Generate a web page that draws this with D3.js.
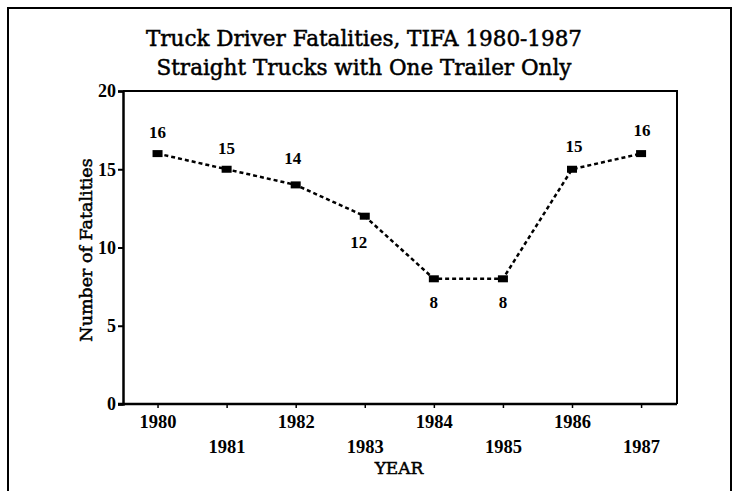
<!DOCTYPE html>
<html>
<head>
<meta charset="utf-8">
<script src="https://cdn.jsdelivr.net/npm/d3@7"></script>
<style>
  body { margin: 0; background: #fff; }
  svg text { font-family: "DejaVu Serif", "Liberation Serif", serif; fill: #000; }
</style>
</head>
<body>
<svg width="739" height="491"></svg>
<script>
var years = [1980, 1981, 1982, 1983, 1984, 1985, 1986, 1987];
var fatalities = [16, 15, 14, 12, 8, 8, 15, 16];
var yTicks = [0, 5, 10, 15, 20];
var titleLines = ['Truck Driver Fatalities, TIFA 1980-1987', 'Straight Trucks with One Trailer Only'];

// where each value label sits relative to its point (layout only)
var labelDx = [0, 0, -3, -6, 0, 0, 2, 1];
var labelDy = [-16, -15, -21, 32, 29, 29, -17, -18];

var svg = d3.select('svg');
var plotLeft = 123, plotRight = 677, plotTop = 91, plotBottom = 404;
var numFont = '"Liberation Serif", serif';

var x = d3.scaleLinear().domain([1979.5, 1987.52]).range([plotLeft, plotRight]);
var y = d3.scaleLinear().domain([0, 20]).range([plotBottom, plotTop]);

// outer frame
svg.append('path')
    .attr('d', 'M8,491 L8,8 L731,8 L731,491')
    .attr('fill', 'none')
    .attr('stroke', '#000')
    .attr('stroke-width', 2);

// titles
svg.selectAll('.title')
    .data(titleLines)
    .enter().append('text')
    .attr('class', 'title')
    .attr('x', 364)
    .attr('y', function(d, i) { return 46 + i * 29; })
    .attr('text-anchor', 'middle')
    .style('font-size', '21.5px')
    .style('stroke', '#000')
    .style('stroke-width', '0.5px')
    .text(function(d) { return d; });

// plot frame (top and right)
svg.append('path')
    .attr('d', 'M' + plotLeft + ',' + plotTop + ' L' + plotRight + ',' + plotTop + ' L' + plotRight + ',' + plotBottom)
    .attr('fill', 'none')
    .attr('stroke', '#000')
    .attr('stroke-width', 2);

// y axis
var yAxis = svg.append('g')
    .attr('transform', 'translate(' + plotLeft + ',0)')
    .call(d3.axisLeft(y).tickValues(yTicks).tickSize(5).tickPadding(2));
yAxis.select('.domain').attr('stroke-width', 2.5);
yAxis.selectAll('.tick line').attr('stroke-width', 2);
yAxis.selectAll('text')
    .style('font-size', '18px')
    .style('font-weight', 'bold')
    .style('font-family', numFont);

// x axis
var xAxis = svg.append('g')
    .attr('transform', 'translate(0,' + plotBottom + ')')
    .call(d3.axisBottom(x).tickValues(years).tickSize(4).tickFormat(d3.format('d')));
xAxis.select('.domain').attr('stroke-width', 2.5).attr('d', 'M' + (plotLeft - 5) + ',0H' + plotRight);
xAxis.selectAll('.tick line').attr('stroke-width', 1.5);
xAxis.selectAll('text')
    .attr('dy', null)
    .attr('y', function(d, i) { return i % 2 === 0 ? 24 : 49; })
    .style('font-size', '18.5px')
    .style('font-weight', 'bold')
    .style('font-family', numFont);

// axis titles
svg.append('text')
    .attr('x', 399)
    .attr('y', 474)
    .attr('text-anchor', 'middle')
    .style('font-size', '17px')
    .style('stroke', '#000')
    .style('stroke-width', '0.5px')
    .text('YEAR');

svg.append('text')
    .attr('transform', 'translate(92,250) rotate(-90)')
    .attr('text-anchor', 'middle')
    .style('font-size', '17.5px')
    .style('stroke', '#000')
    .style('stroke-width', '0.5px')
    .text('Number of Fatalities');

// line
var line = d3.line()
    .x(function(d, i) { return x(years[i]); })
    .y(function(d) { return y(d); });

svg.append('path')
    .datum(fatalities)
    .attr('d', line)
    .attr('fill', 'none')
    .attr('stroke', '#000')
    .attr('stroke-width', 2.5)
    .attr('stroke-dasharray', '4,3');

// markers
svg.selectAll('.pt')
    .data(fatalities)
    .enter().append('rect')
    .attr('class', 'pt')
    .attr('x', function(d, i) { return x(years[i]) - 5; })
    .attr('y', function(d) { return y(d) - 3.5; })
    .attr('width', 10)
    .attr('height', 7)
    .attr('fill', '#000');

// value labels
svg.selectAll('.lbl')
    .data(fatalities)
    .enter().append('text')
    .attr('class', 'lbl')
    .attr('x', function(d, i) { return x(years[i]) + labelDx[i]; })
    .attr('y', function(d, i) { return y(d) + labelDy[i]; })
    .attr('text-anchor', 'middle')
    .style('font-size', '17px')
    .style('font-weight', 'bold')
    .style('font-family', numFont)
    .text(function(d) { return d; });
</script>
</body>
</html>
